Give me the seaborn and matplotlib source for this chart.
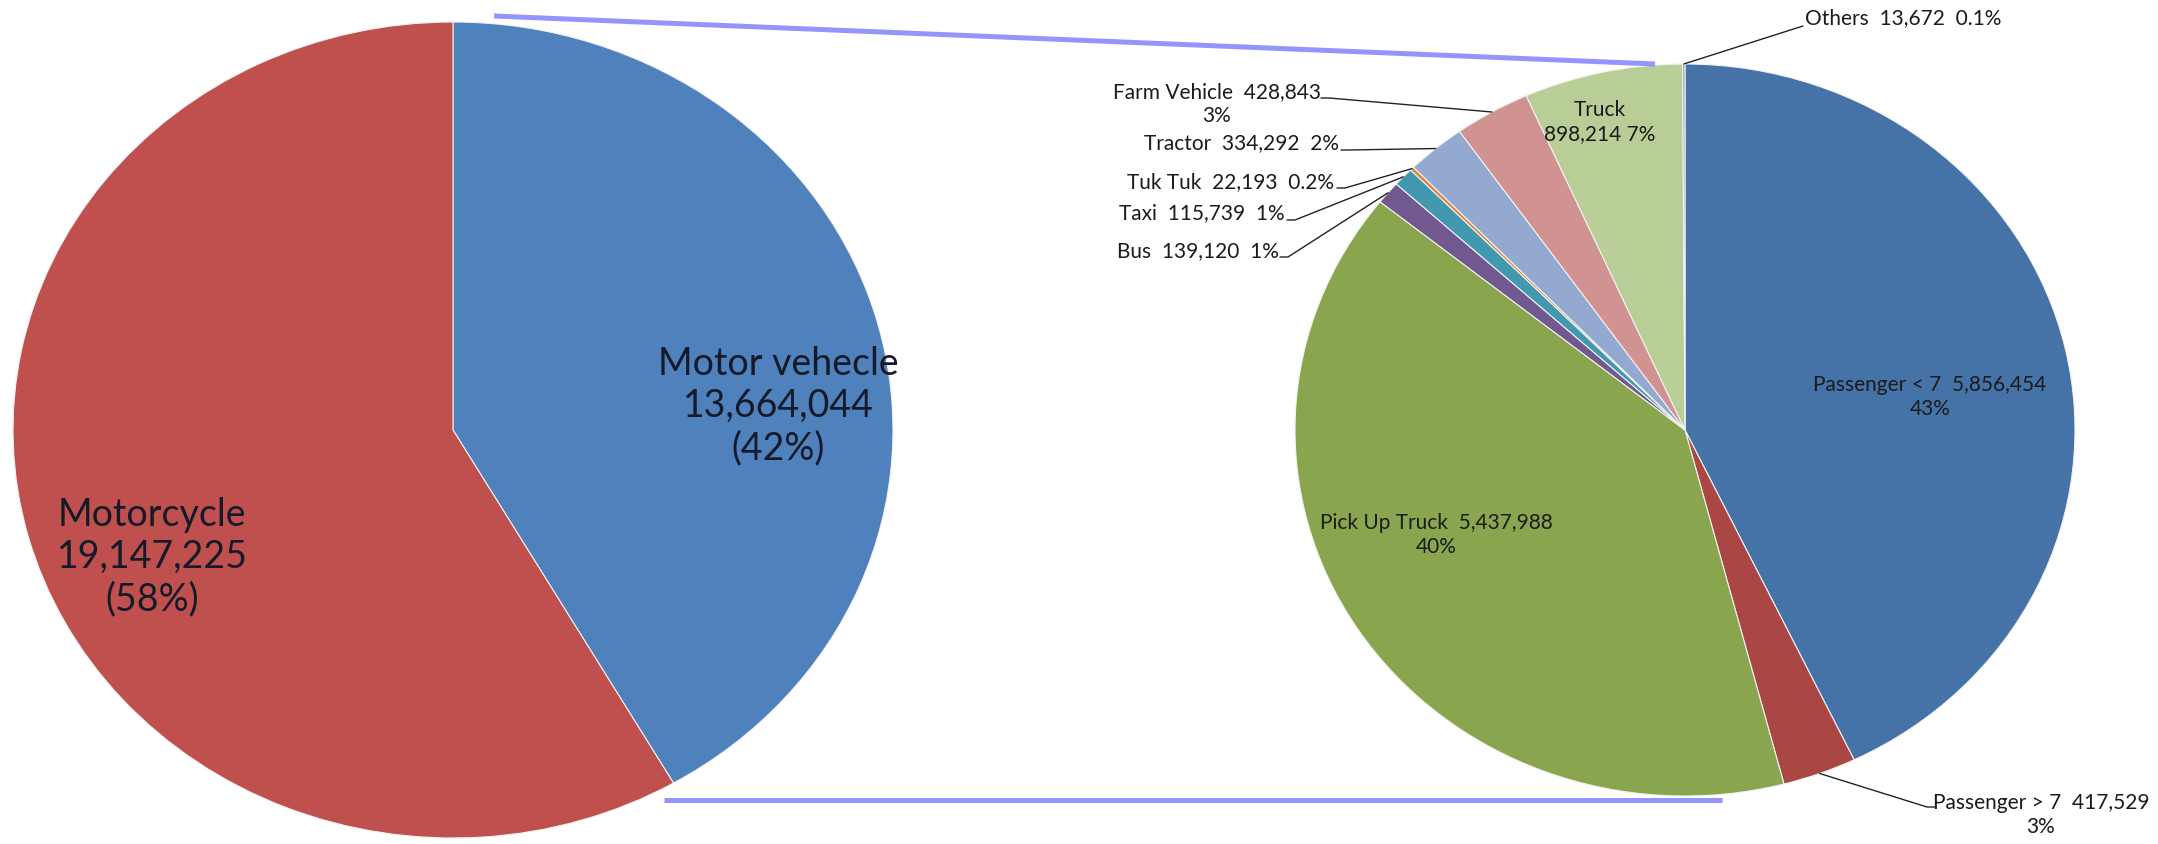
import numpy as np
import matplotlib
matplotlib.use("Agg")
import matplotlib.pyplot as plt
import seaborn as sns

# ---- data -----------------------------------------------------------------
# Overall split of registered vehicles
main_labels = ["Motor vehecle", "Motorcycle"]
main_values = [13664044, 19147225]
main_pct = ["42%", "58%"]
main_colors = ["#4F81BD", "#C0504D"]

# Breakdown of the motor-vehicle share
sub_labels = ["Passenger < 7", "Passenger > 7", "Pick Up Truck", "Bus", "Taxi",
              "Tuk Tuk", "Tractor", "Farm Vehicle", "Truck", "Others"]
sub_values = [5856454, 417529, 5437988, 139120, 115739,
              22193, 334292, 428843, 898214, 13672]
sub_pct = ["43%", "3%", "40%", "1%", "1%", "0.2%", "2%", "3%", "7%", "0.1%"]
sub_colors = ["#4572A7", "#AA4643", "#89A54E", "#71588F", "#4198AF",
              "#DB843D", "#93A9CF", "#D19392", "#B9CD96", "#A99BBD"]

# ---- style ----------------------------------------------------------------
sns.set_theme(style="white")
plt.rcParams["font.family"] = ["Lato", "DejaVu Sans"]
TXT = "#1b1b1b"

W, H = 2158, 844
fig = plt.figure(figsize=(W / 100, H / 100), dpi=100)
fig.patch.set_facecolor("white")


def box(left, top, width, height):
    return [left / W, (H - top - height) / H, width / W, height / H]


ax_l = fig.add_axes(box(13, 22, 880, 816))
ax_r = fig.add_axes(box(1295, 64, 780, 732))
ov = fig.add_axes([0, 0, 1, 1], zorder=3)
ov.set_xlim(0, W)
ov.set_ylim(H, 0)
ov.axis("off")
ov.patch.set_alpha(0)

wedge_kw = dict(edgecolor="#f2f2f2", linewidth=0.8)
for ax, vals, cols in ((ax_l, main_values, main_colors),
                       (ax_r, sub_values, sub_colors)):
    ax.pie(vals, colors=cols, startangle=90, counterclock=False,
           wedgeprops=wedge_kw)
    ax.set_aspect("auto")
    ax.set_xlim(-1, 1)
    ax.set_ylim(-1, 1)
    ax.axis("off")

r_wedges = ax_r.patches


def edge_px(ax, wedge):
    """Point on the rim at the middle angle of a wedge, in overlay pixels."""
    t = np.deg2rad((wedge.theta1 + wedge.theta2) / 2)
    disp = ax.transData.transform((np.cos(t), np.sin(t)))
    return ov.transData.inverted().transform(disp)


# ---- zoom connector lines -------------------------------------------------
conn = dict(color="#9494FF", lw=3.6, solid_capstyle="butt")
ov.plot([494, 1655], [16, 64], **conn)
ov.plot([664, 1722], [800, 800], **conn)

# ---- labels on the left pie -----------------------------------------------
left_pos = {0: (778, 406), 1: (152, 557)}
for i, (x, y) in left_pos.items():
    ov.text(x, y, f"{main_labels[i]}\n{main_values[i]:,}\n({main_pct[i]})",
            ha="center", va="center", fontsize=27, color="#141a2a",
            linespacing=1.2)

# ---- labels inside the right pie ------------------------------------------
SMALL = 15
inside = {0: (1930, 397, "  "), 2: (1436, 535, "  "), 8: (1600, 122, "\n")}
for i, (x, y, sep) in inside.items():
    if sep == "\n":
        s = f"{sub_labels[i]}\n{sub_values[i]:,} {sub_pct[i]}"
    else:
        s = f"{sub_labels[i]}{sep}{sub_values[i]:,}\n{sub_pct[i]}"
    ov.text(x, y, s, ha="center", va="center", fontsize=SMALL, color=TXT,
            linespacing=1.2)

# ---- labels outside the right pie with leader lines ------------------------
# (text x, text y, ha, leader start x, leader start y, elbow dx, two-line)
outside = {
    7: (1217, 104, "center", 1321, 98, 8, True),
    6: (1339, 143, "right", 1341, 150, 8, False),
    5: (1334, 182, "right", 1337, 188, 8, False),
    4: (1285, 213, "right", 1287, 220, 8, False),
    3: (1279, 251, "right", 1280, 257, 8, False),
    1: (2041, 815, "center", 1935, 807, -8, True),
    9: (1805, 18, "left", 1803, 26, 0, False),
}
for i, (tx, ty, ha, lx, ly, dx, two) in outside.items():
    if two:
        s = f"{sub_labels[i]}  {sub_values[i]:,}\n{sub_pct[i]}"
    else:
        s = f"{sub_labels[i]}  {sub_values[i]:,}  {sub_pct[i]}"
    ov.text(tx, ty, s, ha=ha, va="center", fontsize=SMALL, color=TXT,
            linespacing=1.2, multialignment="center")
    ax_, ay_ = edge_px(ax_r, r_wedges[i])
    xs = [lx, lx + dx, ax_] if dx else [lx, ax_]
    ys = [ly, ly, ay_] if dx else [ly, ay_]
    ov.plot(xs, ys, color="#222222", lw=1.0)

fig.savefig("out.png", dpi=100, facecolor="white")
